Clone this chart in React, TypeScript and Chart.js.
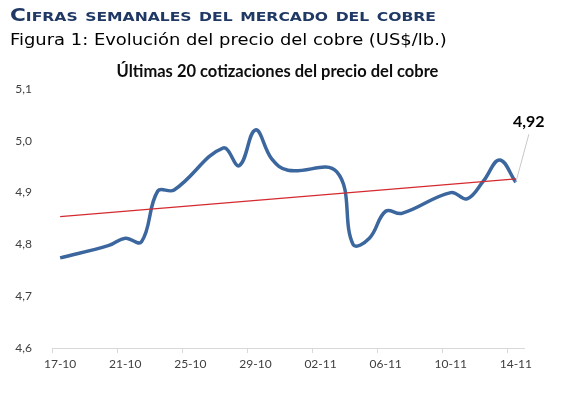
import React, { useEffect, useRef } from "react";
import { Chart, registerables } from "chart.js";

Chart.register(...registerables);

// All calendar days on the date axis (17-10 to 14-11)
const dayLabels: string[] = [
  "17-10", "18-10", "19-10", "20-10", "21-10", "22-10", "23-10", "24-10", "25-10", "26-10",
  "27-10", "28-10", "29-10", "30-10", "31-10", "01-11", "02-11", "03-11", "04-11", "05-11",
  "06-11", "07-11", "08-11", "09-11", "10-11", "11-11", "12-11", "13-11", "14-11",
];

// Copper price (US$/lb), null on days without quotation
const copperPrice: (number | null)[] = [
  4.774, null, null, 4.798, 4.812, 4.805, 4.903, 4.905, null, null,
  4.986, 4.952, 5.021, 4.965, 4.943, null, null, 4.940, 4.800, 4.812,
  4.864, 4.860, null, null, 4.900, 4.888, 4.922, 4.963, 4.920,
];

const yTicks: number[] = [4.6, 4.7, 4.8, 4.9, 5.0, 5.1];

const chartTitle = "Últimas 20 cotizaciones del precio del cobre";
const headerTitle = "Cifras semanales del mercado del cobre";
const figureTitle = "Figura 1: Evolución del precio del cobre (US$/lb.)";

const FONT = "Lato, 'Open Sans', sans-serif";

function linearTrend(values: (number | null)[]): (number | null)[] {
  const pts = values
    .map((v, i) => (v == null ? null : [i, v]))
    .filter((p): p is number[] => p !== null);
  const n = pts.length;
  const mx = pts.reduce((s, p) => s + p[0], 0) / n;
  const my = pts.reduce((s, p) => s + p[1], 0) / n;
  let sxy = 0;
  let sxx = 0;
  pts.forEach((p) => {
    sxy += (p[0] - mx) * (p[1] - my);
    sxx += (p[0] - mx) * (p[0] - mx);
  });
  const slope = sxy / sxx;
  const first = pts[0][0];
  const last = pts[n - 1][0];
  return values.map((_, i) =>
    i === first || i === last ? my + slope * (i - mx) : null
  );
}

const lastLabelPlugin = {
  id: "lastLabel",
  afterDatasetsDraw(chart: any) {
    const meta = chart.getDatasetMeta(0);
    const data = chart.data.datasets[0].data as (number | null)[];
    let idx = data.length - 1;
    while (idx >= 0 && data[idx] == null) idx--;
    const el = meta.data[idx];
    if (!el) return;
    const ctx = chart.ctx;
    const x = el.x;
    const y = el.y;
    ctx.save();
    ctx.strokeStyle = "#c8c8c8";
    ctx.lineWidth = 1;
    ctx.beginPath();
    ctx.moveTo(x, y);
    ctx.lineTo(x + 13, y - 48);
    ctx.stroke();
    ctx.fillStyle = "#000000";
    ctx.font = "bold 16px " + FONT;
    ctx.textAlign = "center";
    ctx.textBaseline = "middle";
    ctx.fillText((data[idx] as number).toFixed(2).replace(".", ","), x + 13, y - 60);
    ctx.restore();
  },
};

export default function App() {
  const canvasRef = useRef<HTMLCanvasElement | null>(null);

  useEffect(() => {
    if (!canvasRef.current) return;
    const trend = linearTrend(copperPrice);
    const chart = new Chart(canvasRef.current, {
      type: "line",
      data: {
        labels: dayLabels,
        datasets: [
          {
            data: copperPrice,
            borderColor: "#3B679E",
            borderWidth: 3.5,
            pointRadius: 0,
            tension: 0.4,
            spanGaps: true,
            fill: false,
            order: 1,
          },
          {
            data: trend,
            borderColor: "#D42A2E",
            borderWidth: 1.2,
            pointRadius: 0,
            tension: 0,
            spanGaps: true,
            fill: false,
            order: 0,
          },
        ],
      },
      options: {
        animation: false,
        responsive: false,
        maintainAspectRatio: false,
        events: [],
        layout: { padding: { left: 0, right: 8, top: 0, bottom: 19 } },
        plugins: {
          legend: { display: false },
          tooltip: { enabled: false },
          title: {
            display: true,
            text: chartTitle,
            color: "#0d0d0d",
            font: { family: FONT, size: 16.5, weight: "bold", lineHeight: 1.2 },
            padding: { top: 62, bottom: 7.2 },
          },
        },
        scales: {
          x: {
            type: "category",
            offset: true,
            grid: {
              offset: true,
              drawOnChartArea: false,
              drawTicks: true,
              tickLength: 5,
              color: (ctx: any) => (ctx.index % 4 === 0 ? "#d9d9d9" : "rgba(0,0,0,0)"),
            },
            border: { display: true, color: "#d9d9d9", width: 1 },
            ticks: {
              autoSkip: false,
              maxRotation: 0,
              minRotation: 0,
              padding: 4,
              color: "#404040",
              font: { family: FONT, size: 12 },
              callback: (_v: any, i: number) => (i % 4 === 0 ? dayLabels[i] : ""),
            },
            afterFit: (scale: any) => {
              scale.height = 30;
            },
          },
          y: {
            min: yTicks[0],
            max: yTicks[yTicks.length - 1],
            afterBuildTicks: (scale: any) => {
              scale.ticks = yTicks.map((v) => ({ value: v }));
            },
            grid: { display: false },
            border: { display: false },
            ticks: {
              padding: 12,
              color: "#404040",
              font: { family: FONT, size: 12 },
              callback: (v: any) => Number(v).toFixed(1).replace(".", ","),
            },
            afterFit: (scale: any) => {
              scale.width = 52;
            },
          },
          yRight: {
            position: "right",
            display: true,
            min: yTicks[0],
            max: yTicks[yTicks.length - 1],
            grid: { display: false },
            border: { display: false },
            ticks: { display: false },
            afterFit: (scale: any) => {
              scale.width = 31;
            },
          },
        },
      },
      plugins: [lastLabelPlugin],
    });
    return () => chart.destroy();
  }, []);

  return (
    <div
      style={{
        position: "fixed",
        left: 0,
        top: 0,
        width: 563,
        height: 397,
        background: "#ffffff",
        overflow: "hidden",
      }}
    >
      <canvas
        ref={canvasRef}
        width={563}
        height={397}
        style={{ position: "absolute", left: 0, top: 0, width: 563, height: 397 }}
      />
      <div
        style={{
          position: "absolute",
          left: 10,
          top: 3,
          fontFamily: "'DejaVu Sans', Verdana, sans-serif",
          fontWeight: "bold",
          fontVariant: "small-caps",
          fontSize: 18,
          lineHeight: "24px",
          color: "#1F3864",
          whiteSpace: "nowrap",
          transform: "scaleX(1.2)",
          transformOrigin: "left center",
        }}
      >
        {headerTitle}
      </div>
      <div
        style={{
          position: "absolute",
          left: 10,
          top: 29,
          fontFamily: "'DejaVu Sans', Verdana, sans-serif",
          fontSize: 16,
          lineHeight: "22px",
          color: "#000000",
          whiteSpace: "nowrap",
          transform: "scaleX(1.12)",
          transformOrigin: "left center",
        }}
      >
        {figureTitle}
      </div>
    </div>
  );
}
